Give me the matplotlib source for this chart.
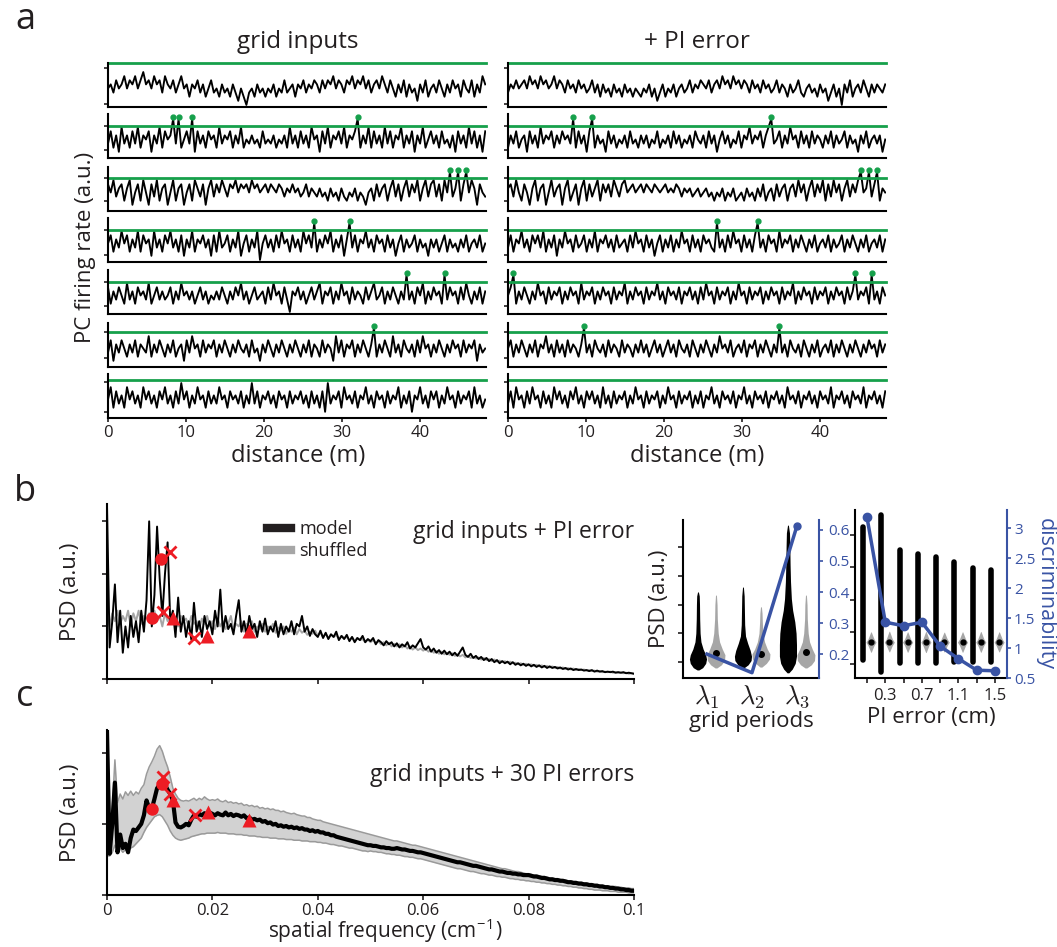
import numpy as np
import matplotlib
matplotlib.use('Agg')
import matplotlib.pyplot as plt

# -------------------------
# STYLE
# -------------------------
plt.rcParams['font.family'] = ['Open Sans', 'DejaVu Sans']
plt.rcParams['mathtext.fontset'] = 'cm'
plt.rcParams['axes.linewidth'] = 1.5
plt.rcParams['xtick.major.width'] = 1.2
plt.rcParams['ytick.major.width'] = 1.2
plt.rcParams['xtick.major.size'] = 3.5
plt.rcParams['ytick.major.size'] = 3.5
for k in ['text.color', 'axes.labelcolor', 'xtick.color', 'ytick.color']:
    plt.rcParams[k] = '#231f20'

GREEN = '#16a04b'
RED = '#ed1c24'
BLUE = '#3953a4'
GREY = '#a6a6a6'

# -------------------------
# DATA
# -------------------------
track_len = 48.4  # m

# PC firing rate traces (a.u.), 140 samples along the track
grid_1 = [4,5,3,6,4,5,7,4,6,5, 7,4,6,8,5,6,4,7,5,6, 3,7,5,4,6,3,5,7,4,5, 2,5,4,6,3,5,2,4,6,3,
          4,2,5,3,4,2,5,3,1,4, 2,0,3,4,2,5,3,4,2,4, 3,5,2,4,3,6,3,4,5,2, 5,4,6,3,5,4,6,5,3,6,
          4,6,5,7,4,6,5,3,6,5, 7,4,6,5,7,4,6,3,5,6, 4,7,5,3,6,4,2,5,3,6, 2,5,3,4,1,5,3,6,2,4,
          5,3,6,4,2,5,3,6,4,5, 2,6,4,3,6,2,5,3,7,5]
grid_2 = [3,6,2,5,1,7,3,5,2,6, 3,7,2,5,4,6,1,5,3,7, 2,6,4,5,9,3,9,2,4,6, 3,9,1,6,3,5,2,6,4,5,
          2,7,3,5,4,6,2,5,3,7, 2,4,3,5,3,4,2,6,3,4, 3,5,2,4,3,5,2,7,3,5, 2,6,3,5,2,7,4,5,1,6,
          3,7,2,5,4,6,3,7,2,5, 4,6,9,2,5,3,7,2,6,3, 5,2,7,3,6,2,5,4,7,2, 5,3,6,1,5,3,7,2,4,6,
          3,5,2,6,3,4,2,5,1,6, 3,5,2,7,3,6,2,5,1,6]
grid_3 = [6,4,7,3,5,6,2,5,7,1, 4,6,2,7,4,1,6,3,7,2, 5,6,1,4,7,2,5,6,1,4, 6,2,7,5,3,6,1,5,7,3,
          6,4,7,5,3,6,5,7,4,6, 5,6,4,7,5,6,4,5,6,4, 6,5,4,6,5,3,5,4,6,4, 5,3,4,6,3,5,4,3,5,3,
          4,2,5,3,4,2,5,3,2,4, 3,5,2,4,3,1,4,5,2,6, 3,5,6,2,5,7,3,6,2,5, 7,3,6,4,7,2,5,7,3,6,
          7,3,6,2,7,4,9,3,5,9, 2,6,9,4,7,5,1,6,4,3]
grid_4 = [4,6,2,5,3,7,4,6,2,5, 3,7,2,6,4,5,1,7,3,5, 2,6,4,7,3,5,2,6,1,5, 3,7,2,5,4,6,3,5,1,6,
          2,7,3,4,6,2,5,3,7,1, 4,6,2,5,3,7,0,4,6,3, 5,2,6,3,7,4,5,2,6,3, 5,2,7,4,6,3,9,2,5,3,
          6,4,7,2,5,3,6,1,5,9, 3,6,2,5,4,7,3,5,2,6, 4,5,2,6,3,5,1,4,6,2, 5,3,4,6,2,5,3,4,1,5,
          3,5,2,4,6,2,5,3,4,2, 5,3,6,2,4,5,3,6,2,4]
grid_5 = [6,2,5,3,6,4,2,7,3,5, 2,6,4,5,3,7,2,4,6,3, 5,3,4,6,2,5,3,7,4,5, 3,5,2,4,6,3,5,2,4,3,
          5,3,6,4,2,5,3,6,4,7, 3,5,2,4,6,3,4,5,2,6, 3,7,4,5,2,6,3,0,5,4, 6,3,5,2,4,6,3,5,7,2,
          5,4,6,2,5,3,7,4,5,2, 6,3,5,4,2,6,3,5,7,3, 4,6,2,5,3,6,4,2,5,3, 9,3,5,2,6,4,7,2,5,3,
          6,4,5,2,9,3,6,4,5,2, 6,3,7,4,2,5,3,6,2,5]
grid_6 = [3,6,1,5,3,6,4,2,5,3, 6,2,5,4,3,7,2,5,3,6, 4,2,5,3,6,2,4,5,1,6, 3,7,4,5,2,6,3,5,4,6,
          2,5,3,6,4,2,5,3,6,4, 3,5,2,6,3,4,1,5,3,6, 4,2,5,3,6,4,2,5,3,6, 4,2,5,3,6,2,5,4,2,6,
          3,5,4,1,7,3,6,2,5,4, 6,2,5,3,6,4,2,5,9,2, 5,3,6,4,2,7,3,5,2,6, 4,3,5,2,6,3,7,4,5,2,
          5,3,6,4,2,5,3,6,4,5, 2,6,3,5,4,6,1,5,3,4]
grid_7 = [4,7,2,6,3,5,2,7,4,6, 3,5,2,7,4,6,3,5,2,6, 4,7,3,5,2,6,3,8,4,6, 2,5,3,7,4,5,2,6,3,5,
          3,7,4,5,2,6,4,5,3,6, 2,5,3,8,3,6,2,5,4,6, 3,5,2,6,4,5,2,6,3,5, 4,6,3,5,2,6,3,5,2,6,
          1,8,3,5,4,6,2,7,4,5, 3,6,2,5,4,7,3,5,2,6, 4,5,2,6,3,5,4,7,2,5, 3,6,1,5,4,7,3,5,2,6,
          4,6,2,5,3,7,4,5,2,6, 3,5,4,6,2,7,3,5,2,4]

pi_1 = [3,5,4,6,4,5,6,4,7,5, 6,4,7,5,6,4,5,7,4,6, 5,3,6,4,5,3,6,4,5,3, 4,6,3,5,2,5,3,4,2,5,
        3,4,2,5,3,4,2,4,3,2, 4,3,5,2,4,1,3,5,2,4, 3,5,2,4,5,3,4,6,3,5, 4,6,5,4,6,3,5,6,4,7,
        5,6,4,7,5,6,4,6,5,3, 6,4,5,3,6,4,5,3,4,6, 3,5,4,2,5,3,4,6,3,2, 4,5,3,4,2,5,3,4,1,3,
        5,2,4,0,5,3,6,2,4,5, 3,6,4,2,5,3,5,4,3,5]
pi_2 = [2,5,3,6,2,4,5,1,6,3, 5,2,7,3,5,4,6,2,5,3, 6,4,5,3,9,2,6,3,5,1, 6,9,2,5,3,4,1,6,3,5,
        2,4,3,5,2,6,3,4,2,5, 3,5,2,4,3,6,2,4,3,5, 2,6,3,5,2,4,3,5,2,6, 4,3,5,2,6,3,5,1,4,6,
        3,5,2,4,3,6,2,5,4,7, 3,5,4,6,2,5,7,9,3,4, 6,2,5,3,7,4,5,2,6,3, 5,2,6,3,5,4,2,5,3,6,
        2,5,3,4,6,2,5,3,4,1, 5,3,6,2,4,5,3,5,1,4]
pi_3 = [5,6,3,7,4,2,6,4,1,5, 7,2,5,6,1,4,7,3,5,6, 1,5,7,2,4,6,1,5,7,2, 6,3,5,7,2,6,4,6,3,7,
        5,3,6,7,4,5,6,4,5,6, 4,6,5,4,6,5,4,5,6,4, 5,4,6,5,3,5,4,5,3,4, 5,3,4,5,3,4,2,4,3,5,
        2,4,3,5,2,3,4,2,5,3, 4,2,5,3,6,2,4,5,2,6, 3,5,6,2,5,6,3,7,4,6, 2,5,7,3,6,4,7,2,6,3,
        7,4,6,2,5,7,3,6,4,7, 9,4,5,9,3,6,9,2,5,4]
pi_4 = [3,6,2,5,4,7,3,5,2,6, 4,6,3,7,2,5,3,6,1,5, 3,7,4,5,2,6,3,4,6,2, 5,3,7,2,5,4,6,3,5,2,
        6,3,4,5,2,6,3,7,4,5, 2,6,3,5,1,4,6,2,5,3, 6,2,5,3,7,4,5,2,6,3, 5,2,6,4,5,3,2,9,3,5,
        2,6,3,7,4,5,2,6,3,5, 2,6,9,3,5,2,6,4,5,2, 7,3,5,4,6,2,5,3,6,4, 2,5,3,6,2,4,5,3,6,2,
        5,3,4,6,2,5,3,6,4,2, 5,3,6,2,4,5,3,6,2,5]
pi_5 = [4,6,9,2,5,3,6,4,2,5, 3,7,4,5,2,6,3,5,4,6, 2,5,3,6,4,5,2,7,3,5, 4,6,2,5,3,6,4,5,2,6,
        3,5,4,7,2,5,3,6,4,5, 2,6,3,5,4,7,3,5,2,6, 4,5,3,6,2,5,4,6,3,5, 2,6,3,7,4,5,2,6,3,5,
        4,6,2,5,3,7,4,5,2,6, 3,5,4,6,2,5,3,6,4,5, 2,6,3,5,4,7,2,5,3,6, 4,5,2,6,3,5,4,6,2,5,
        3,6,4,5,2,6,3,5,9,3, 5,4,6,2,9,3,5,2,6,4]
pi_6 = [4,6,2,5,3,6,4,2,5,3, 6,2,5,4,7,3,5,2,6,3, 5,2,6,3,5,4,2,5,9,3, 5,2,6,4,3,5,2,6,3,5,
        4,2,6,3,5,4,2,5,3,6, 3,5,2,4,6,3,5,2,4,6, 3,5,2,6,4,3,5,2,6,4, 2,5,3,6,4,2,5,3,7,4,
        5,3,6,2,4,5,3,6,2,5, 4,6,2,5,3,6,4,2,5,3, 9,3,5,2,6,4,3,5,2,6, 4,2,5,3,6,2,4,5,3,6,
        2,5,3,6,4,2,5,3,6,4, 2,5,3,6,4,5,2,6,3,5]
pi_7 = [3,6,2,7,4,5,2,6,3,7, 4,5,2,6,3,5,2,7,4,6, 3,5,2,6,4,7,3,5,2,6, 4,6,3,5,2,7,3,5,2,6,
        3,5,4,6,2,5,3,7,4,5, 2,6,3,5,4,6,2,5,3,7, 4,5,2,6,3,5,4,6,2,5, 3,6,2,5,4,7,3,5,2,6,
        4,5,3,6,2,5,4,7,3,5, 2,6,4,5,3,6,2,5,4,6, 3,5,2,7,4,5,3,6,2,5, 4,6,3,5,2,6,4,5,3,7,
        2,5,4,6,3,5,2,6,4,5, 3,7,2,5,4,6,3,5,2,6]

grid_traces = [grid_1, grid_2, grid_3, grid_4, grid_5, grid_6, grid_7]
pi_traces = [pi_1, pi_2, pi_3, pi_4, pi_5, pi_6, pi_7]

# firing threshold (green line) per place cell, and y ticks of each row
thresholds = [10.15, 7.3, 7.5, 7.4, 7.4, 7.9, 8.7]
row_yticks = [[0.2, 9.0], [1.4, 7.3], [1.9, 7.5], [1.2, 7.4], [1.4, 7.4], [1.6, 7.9], [1.0, 8.3]]

# panel b: PSD (a.u.) for f = 0 .. 0.1 cm^-1, 201 samples
b_model = [3.3, 0.6, 1.1, 1.8, 0.7, 1.3, 0.5, 1.0, 0.6, 1.2,
           0.8, 1.1, 0.7, 1.3, 0.9, 1.5, 3.0, 1.0, 1.6, 2.9,
           1.9, 1.2, 2.0, 2.6, 1.1, 1.3, 0.8, 1.55, 0.9, 1.2,
           0.8, 1.1, 0.75, 1.45, 0.9, 1.1, 0.8, 1.2, 0.95, 1.1,
           0.85, 1.3, 1.0, 1.7, 0.9, 1.2, 0.95, 1.05, 0.85, 1.2,
           1.5, 0.9, 1.1, 0.85, 1.2, 0.95, 1.05, 0.8, 1.1, 0.9,
           1.15, 0.85, 1.0, 0.9, 1.1, 0.8, 1.05, 0.85, 1.0, 0.9,
           1.1, 0.85, 1.05, 1.0, 1.2, 0.9, 1.0, 0.82, 0.95, 0.85,
           0.8, 0.92, 0.78, 0.88, 0.76, 0.85, 0.8, 0.9, 0.74, 0.82,
           0.76, 0.84, 0.72, 0.8, 0.7, 0.78, 0.74, 0.82, 0.7, 0.76,
           0.72, 0.78, 0.66, 0.74, 0.7, 0.64, 0.72, 0.66, 0.7, 0.62,
           0.68, 0.6, 0.66, 0.62, 0.7, 0.58, 0.64, 0.6, 0.68, 0.76,
           0.6, 0.56, 0.62, 0.52, 0.58, 0.5, 0.55, 0.48, 0.54, 0.47,
           0.52, 0.45, 0.5, 0.44, 0.52, 0.6, 0.46, 0.42, 0.48, 0.4,
           0.44, 0.38, 0.42, 0.36, 0.4, 0.34, 0.38, 0.32, 0.36, 0.3,
           0.34, 0.3, 0.33, 0.28, 0.32, 0.27, 0.3, 0.26, 0.29, 0.25,
           0.28, 0.24, 0.27, 0.23, 0.26, 0.22, 0.25, 0.21, 0.24, 0.21,
           0.23, 0.2, 0.22, 0.19, 0.21, 0.18, 0.2, 0.17, 0.19, 0.17,
           0.18, 0.16, 0.17, 0.15, 0.17, 0.14, 0.16, 0.14, 0.15, 0.13,
           0.14, 0.13, 0.14, 0.12, 0.13, 0.12, 0.13, 0.11, 0.12, 0.11, 0.1]
b_shuf = [1.2, 1.0, 1.25, 1.1, 1.3, 1.05, 1.2, 1.1, 1.3, 1.0,
          1.25, 1.1, 1.3, 1.05, 1.2, 1.15, 1.25, 1.05, 1.3, 1.1,
          1.2, 1.0, 1.25, 1.1, 1.2, 1.05, 1.15, 1.0, 1.2, 1.1,
          1.15, 1.0, 1.2, 1.05, 1.1, 0.95, 1.15, 1.05, 1.2, 1.0,
          1.1, 0.95, 1.15, 1.0, 1.1, 0.95, 1.05, 1.2, 0.95, 1.05,
          1.0, 1.1, 0.9, 1.05, 0.95, 1.1, 0.9, 1.0, 0.95, 1.05,
          0.9, 1.0, 0.95, 1.05, 0.88, 0.98, 0.92, 1.0, 0.86, 0.96,
          0.9, 0.98, 0.85, 0.95, 0.88, 0.92, 0.84, 0.9, 0.86, 0.92,
          0.82, 0.88, 0.8, 0.86, 0.78, 0.85, 0.8, 0.84, 0.76, 0.82,
          0.78, 0.8, 0.74, 0.8, 0.72, 0.78, 0.74, 0.76, 0.7, 0.75,
          0.7, 0.74, 0.68, 0.72, 0.66, 0.7, 0.64, 0.69, 0.62, 0.67,
          0.62, 0.66, 0.6, 0.64, 0.58, 0.62, 0.56, 0.6, 0.55, 0.58,
          0.54, 0.57, 0.52, 0.55, 0.5, 0.53, 0.48, 0.52, 0.47, 0.5,
          0.46, 0.49, 0.44, 0.47, 0.43, 0.46, 0.41, 0.44, 0.4, 0.42,
          0.39, 0.41, 0.37, 0.4, 0.36, 0.38, 0.34, 0.37, 0.33, 0.35,
          0.32, 0.34, 0.31, 0.33, 0.3, 0.31, 0.28, 0.3, 0.27, 0.29,
          0.26, 0.28, 0.25, 0.27, 0.24, 0.26, 0.23, 0.25, 0.22, 0.24,
          0.21, 0.23, 0.2, 0.22, 0.19, 0.21, 0.18, 0.2, 0.17, 0.19,
          0.17, 0.18, 0.16, 0.17, 0.15, 0.16, 0.14, 0.15, 0.13, 0.14,
          0.13, 0.14, 0.12, 0.13, 0.12, 0.12, 0.11, 0.12, 0.1, 0.11, 0.1]

# grid-period markers on panel b (frequency, PSD)
b_circle_f, b_circle_y = [0.0085, 0.0102], [1.16, 2.29]
b_cross_f, b_cross_y = [0.0106, 0.012, 0.0165], [1.28, 2.42, 0.78]
b_tri_f, b_tri_y = [0.0125, 0.019, 0.0269], [1.16, 0.82, 0.91]

# panel c: mean PSD over 30 PI errors and shuffled envelope
c_model = [2.3, 0.58, 1.0, 1.58, 0.6, 0.85, 0.66, 0.72, 0.6, 0.8,
           0.92, 0.9, 0.95, 1.0, 1.12, 1.33, 1.22, 1.21, 1.35, 1.5,
           1.55, 1.58, 1.55, 1.48, 1.42, 1.33, 1.02, 0.96, 0.95, 0.97,
           1.0, 0.98, 1.06, 1.12, 1.1, 1.14, 1.12, 1.15, 1.13, 1.16,
           1.14, 1.12, 1.15, 1.13, 1.12, 1.16, 1.12, 1.14, 1.11, 1.13,
           1.12, 1.1, 1.12, 1.08, 1.09, 1.06, 1.07, 1.05, 1.06, 1.03,
           1.04, 1.01, 1.02, 0.99, 1.0, 0.97, 0.98, 0.96, 0.97, 0.95,
           0.96, 0.94, 0.95, 0.93, 0.94, 0.92, 0.92, 0.9, 0.91, 0.89,
           0.9, 0.88, 0.88, 0.86, 0.86, 0.84, 0.84, 0.82, 0.81, 0.8,
           0.79, 0.78, 0.77, 0.76, 0.75, 0.74, 0.73, 0.72, 0.71, 0.7,
           0.7, 0.69, 0.69, 0.68, 0.67, 0.67, 0.66, 0.66, 0.65, 0.65,
           0.66, 0.65, 0.64, 0.64, 0.63, 0.62, 0.62, 0.61, 0.6, 0.6,
           0.59, 0.58, 0.57, 0.56, 0.55, 0.54, 0.53, 0.52, 0.51, 0.5,
           0.49, 0.48, 0.47, 0.46, 0.46, 0.45, 0.44, 0.43, 0.42, 0.41,
           0.41, 0.4, 0.39, 0.38, 0.37, 0.36, 0.36, 0.35, 0.34, 0.33,
           0.33, 0.32, 0.31, 0.31, 0.3, 0.3, 0.29, 0.29, 0.28, 0.28,
           0.28, 0.27, 0.26, 0.26, 0.25, 0.24, 0.24, 0.23, 0.22, 0.22,
           0.21, 0.21, 0.2, 0.2, 0.19, 0.18, 0.18, 0.17, 0.17, 0.16,
           0.16, 0.15, 0.15, 0.14, 0.14, 0.13, 0.13, 0.12, 0.12, 0.11,
           0.11, 0.1, 0.1, 0.09, 0.09, 0.08, 0.08, 0.07, 0.07, 0.06, 0.06]
c_shuf_hi = [1.3, 1.0, 1.2, 1.9, 1.3, 1.42, 1.35, 1.45, 1.4, 1.46,
             1.4, 1.45, 1.42, 1.5, 1.55, 1.7, 1.8, 1.87, 1.95, 2.05,
             2.1, 2.02, 1.9, 1.8, 1.66, 1.5, 1.42, 1.36, 1.33, 1.32,
             1.33, 1.32, 1.34, 1.36, 1.33, 1.36, 1.34, 1.38, 1.35, 1.33,
             1.34, 1.33, 1.35, 1.32, 1.31, 1.33, 1.3, 1.31, 1.29, 1.3,
             1.28, 1.29, 1.26, 1.27, 1.25, 1.26, 1.24, 1.25, 1.22, 1.23,
             1.21, 1.22, 1.2, 1.21, 1.19, 1.19, 1.17, 1.18, 1.16, 1.15,
             1.14, 1.15, 1.13, 1.12, 1.11, 1.11, 1.09, 1.09, 1.07, 1.06,
             1.05, 1.05, 1.03, 1.02, 1.01, 1.0, 0.99, 0.98, 0.97, 0.96,
             0.95, 0.94, 0.93, 0.92, 0.91, 0.9, 0.89, 0.88, 0.87, 0.86,
             0.85, 0.84, 0.83, 0.82, 0.81, 0.8, 0.79, 0.78, 0.77, 0.76,
             0.76, 0.75, 0.74, 0.73, 0.72, 0.71, 0.7, 0.7, 0.69, 0.68,
             0.67, 0.66, 0.65, 0.64, 0.63, 0.62, 0.61, 0.6, 0.59, 0.58,
             0.57, 0.56, 0.55, 0.54, 0.53, 0.52, 0.51, 0.5, 0.49, 0.48,
             0.47, 0.46, 0.45, 0.44, 0.43, 0.42, 0.41, 0.4, 0.39, 0.38,
             0.37, 0.37, 0.36, 0.35, 0.34, 0.33, 0.33, 0.32, 0.31, 0.3,
             0.3, 0.29, 0.28, 0.28, 0.27, 0.26, 0.26, 0.25, 0.24, 0.24,
             0.23, 0.23, 0.22, 0.21, 0.21, 0.2, 0.2, 0.19, 0.19, 0.18,
             0.18, 0.17, 0.17, 0.16, 0.16, 0.15, 0.15, 0.14, 0.14, 0.13,
             0.13, 0.12, 0.12, 0.12, 0.11, 0.11, 0.1, 0.1, 0.1, 0.09, 0.09]
c_shuf_lo = [0.55, 0.55, 0.6, 0.7, 0.62, 0.65, 0.6, 0.64, 0.62, 0.66,
             0.68, 0.72, 0.76, 0.8, 0.88, 0.95, 1.0, 1.05, 1.1, 1.12,
             1.13, 1.1, 1.04, 0.98, 0.9, 0.84, 0.8, 0.78, 0.77, 0.78,
             0.79, 0.8, 0.82, 0.83, 0.84, 0.85, 0.86, 0.86, 0.87, 0.87,
             0.87, 0.87, 0.88, 0.87, 0.87, 0.87, 0.86, 0.86, 0.86, 0.85,
             0.85, 0.85, 0.84, 0.84, 0.83, 0.83, 0.83, 0.82, 0.82, 0.81,
             0.81, 0.81, 0.8, 0.8, 0.8, 0.79, 0.79, 0.79, 0.78, 0.78,
             0.78, 0.77, 0.77, 0.77, 0.76, 0.76, 0.76, 0.75, 0.75, 0.75,
             0.74, 0.74, 0.73, 0.73, 0.72, 0.71, 0.71, 0.7, 0.69, 0.69,
             0.68, 0.67, 0.66, 0.66, 0.65, 0.64, 0.63, 0.62, 0.62, 0.61,
             0.62, 0.61, 0.61, 0.6, 0.6, 0.59, 0.58, 0.58, 0.57, 0.57,
             0.56, 0.56, 0.55, 0.54, 0.54, 0.53, 0.53, 0.52, 0.51, 0.51,
             0.5, 0.49, 0.48, 0.47, 0.46, 0.45, 0.44, 0.43, 0.42, 0.41,
             0.4, 0.39, 0.38, 0.37, 0.37, 0.36, 0.35, 0.34, 0.33, 0.33,
             0.32, 0.31, 0.3, 0.3, 0.29, 0.28, 0.28, 0.27, 0.26, 0.26,
             0.25, 0.25, 0.24, 0.23, 0.23, 0.22, 0.22, 0.21, 0.21, 0.2,
             0.2, 0.19, 0.19, 0.18, 0.18, 0.17, 0.17, 0.16, 0.16, 0.15,
             0.15, 0.14, 0.14, 0.13, 0.13, 0.12, 0.12, 0.11, 0.11, 0.1,
             0.1, 0.09, 0.09, 0.08, 0.08, 0.07, 0.07, 0.07, 0.06, 0.06,
             0.06, 0.05, 0.05, 0.05, 0.04, 0.04, 0.04, 0.04, 0.03, 0.03, 0.03]

c_circle_f, c_circle_y = [0.0085, 0.0104], [1.21, 1.56]
c_cross_f, c_cross_y = [0.0106, 0.012, 0.0167], [1.66, 1.42, 1.13]
c_tri_f, c_tri_y = [0.0125, 0.0192, 0.027], [1.34, 1.17, 1.06]

# violins per grid period: (PSD level, relative density)
period_labels = [r'$\lambda_1$', r'$\lambda_2$', r'$\lambda_3$']
model_levels = [[0.72, 0.8, 0.95, 1.1, 1.25, 1.45, 1.7, 2.0, 2.5, 3.0, 3.3, 3.44],
                [0.79, 0.9, 1.05, 1.2, 1.4, 1.65, 1.9, 2.3, 2.8, 3.3, 3.61],
                [0.62, 0.75, 0.95, 1.2, 1.6, 2.0, 2.4, 2.8, 3.2, 3.8, 4.4, 5.0, 5.5, 5.77]]
model_dens = [[0.1, 0.55, 0.9, 1.0, 0.9, 0.6, 0.35, 0.25, 0.2, 0.18, 0.15, 0.05],
              [0.1, 0.6, 0.95, 1.0, 0.85, 0.55, 0.3, 0.2, 0.17, 0.14, 0.05],
              [0.1, 0.5, 0.85, 1.0, 1.0, 0.95, 0.8, 0.55, 0.4, 0.3, 0.25, 0.22, 0.18, 0.05]]
shuf_levels = [[0.79, 0.9, 1.05, 1.25, 1.45, 1.7, 2.0, 2.5, 3.0, 3.33],
               [0.82, 0.95, 1.1, 1.28, 1.45, 1.7, 2.0, 2.4, 2.7, 2.92],
               [0.79, 0.9, 1.05, 1.25, 1.45, 1.7, 2.0, 2.5, 3.0, 3.33]]
shuf_dens = [[0.1, 0.6, 0.95, 1.0, 0.7, 0.4, 0.25, 0.15, 0.12, 0.05],
             [0.1, 0.6, 0.95, 1.0, 0.7, 0.4, 0.22, 0.15, 0.12, 0.05],
             [0.1, 0.6, 0.95, 1.0, 0.7, 0.4, 0.25, 0.15, 0.12, 0.05]]
shuf_median = [1.31, 1.28, 1.35]
disc_periods = [0.2, 0.14, 0.613]

# violins per PI error (cm)
pi_err = [0.1, 0.3, 0.5, 0.7, 0.9, 1.1, 1.3, 1.5]
pi_model_lo = [1.12, 0.75, 1.03, 1.03, 1.03, 1.06, 1.06, 1.06]
pi_model_hi = [5.25, 5.63, 4.54, 4.42, 4.32, 4.17, 3.98, 3.92]
pi_shuf_lo = [1.37, 1.38, 1.37, 1.36, 1.38, 1.37, 1.37, 1.38]
pi_shuf_med = [1.68, 1.68, 1.68, 1.68, 1.68, 1.68, 1.68, 1.68]
pi_shuf_hi = [2.0, 2.02, 2.0, 2.01, 1.99, 2.0, 2.01, 2.0]
disc_pi = [3.18, 1.43, 1.37, 1.43, 1.03, 0.82, 0.63, 0.62]

# -------------------------
# FIGURE
# -------------------------
W, H = 1057, 947
fig = plt.figure(figsize=(W / 100, H / 100), dpi=100)


def px_axes(x0, y0, x1, y1):
    return fig.add_axes([x0 / W, 1 - y1 / H, (x1 - x0) / W, (y1 - y0) / H])


def clean(ax):
    ax.spines['top'].set_visible(False)
    ax.spines['right'].set_visible(False)


# ---- panel a ----
row_bottoms = [107, 158, 211, 262, 314, 367, 418]
for traces, x0 in [(grid_traces, 108), (pi_traces, 508)]:
    for r, tr in enumerate(traces):
        ax = px_axes(x0, row_bottoms[r] - 44, x0 + 378, row_bottoms[r])
        tr = np.array(tr, dtype=float)
        x = np.linspace(0, track_len, len(tr))
        ax.plot(x, tr, color='k', lw=1.35)
        ax.axhline(thresholds[r], color=GREEN, lw=2, clip_on=False)
        above = tr > thresholds[r]
        ax.plot(x[above], tr[above] + 0.35, 'o', color=GREEN, ms=3.5, clip_on=False)
        ax.set_xlim(0, 48.5)
        ax.set_ylim(-0.5, 10.2)
        ax.set_yticks(row_yticks[r])
        ax.set_yticklabels([])
        ax.tick_params(axis='y', length=3)
        clean(ax)
        if r < 6:
            ax.set_xticks([])
        else:
            ax.set_xticks([0, 10, 20, 30, 40])
            ax.tick_params(axis='x', labelsize=12, length=3, pad=2)

fig.text(298 / W, 1 - 42 / H, 'grid inputs', ha='center', va='center', fontsize=17.5)
fig.text(697 / W, 1 - 42 / H, '+ PI error', ha='center', va='center', fontsize=17.5)
fig.text(298 / W, 1 - 456 / H, 'distance (m)', ha='center', va='center', fontsize=17)
fig.text(697 / W, 1 - 456 / H, 'distance (m)', ha='center', va='center', fontsize=17)
fig.text(85 / W, 1 - 247 / H, 'PC firing rate (a.u.)', ha='center', va='center',
         rotation=90, fontsize=16)

fig.text(25 / W, 1 - 20 / H, 'a', ha='center', va='center', fontsize=26)
fig.text(25 / W, 1 - 492 / H, 'b', ha='center', va='center', fontsize=26)
fig.text(25 / W, 1 - 697 / H, 'c', ha='center', va='center', fontsize=26)

freq = np.linspace(0, 0.1, len(b_model))
freq_ticks = [0, 0.02, 0.04, 0.06, 0.08, 0.1]


def grid_markers(ax, cf, cy, xf, xy, tf, ty):
    ax.plot(cf, cy, 'o', color=RED, ms=9, mec='none', zorder=5)
    ax.plot(xf, xy, 'x', color=RED, ms=8, mew=2, zorder=5)
    ax.plot(tf, ty, '^', color=RED, ms=10, mec='none', zorder=5)


# ---- panel b ----
axb = px_axes(107, 504, 634, 679)
axb.plot(freq, b_shuf, color=GREY, lw=1.4)
axb.plot(freq, b_model, color='k', lw=1.4)
grid_markers(axb, b_circle_f, b_circle_y, b_cross_f, b_cross_y, b_tri_f, b_tri_y)
axb.set_xlim(0, 0.1)
axb.set_ylim(0, 3.33)
axb.set_yticks([0, 1, 2, 3])
axb.set_yticklabels([])
axb.set_xticks(freq_ticks)
axb.set_xticklabels([])
axb.set_ylabel('PSD (a.u.)', fontsize=16, labelpad=12)
clean(axb)
h1 = plt.Line2D([], [], color='#231f20', lw=6)
h2 = plt.Line2D([], [], color=GREY, lw=6)
axb.legend([h1, h2], ['model', 'shuffled'], loc='upper left', bbox_to_anchor=(0.29, 0.95),
           frameon=False, fontsize=13, handlelength=1.3, handletextpad=0.5,
           labelspacing=0.25, borderaxespad=0)
axb.text(1.0, 0.84, 'grid inputs + PI error', transform=axb.transAxes,
         ha='right', va='center', fontsize=16.5)

# ---- panel c ----
axc = px_axes(107, 730, 634, 895)
axc.fill_between(freq, c_shuf_lo, c_shuf_hi, color='#d2d2d2', lw=0)
axc.plot(freq, c_shuf_hi, color='#9a9a9a', lw=1.1)
axc.plot(freq, c_shuf_lo, color='#9a9a9a', lw=1.1)
axc.plot(freq, c_model, color='k', lw=3)
grid_markers(axc, c_circle_f, c_circle_y, c_cross_f, c_cross_y, c_tri_f, c_tri_y)
axc.set_xlim(0, 0.1)
axc.set_ylim(0, 2.32)
axc.set_yticks([0, 1, 2])
axc.set_yticklabels([])
axc.set_xticks(freq_ticks)
axc.set_xticklabels(['0', '0.02', '0.04', '0.06', '0.08', '0.1'])
axc.tick_params(axis='x', labelsize=12, pad=2)
axc.set_ylabel('PSD (a.u.)', fontsize=16, labelpad=12)
clean(axc)
fig.text(385 / W, 1 - 931 / H, r'spatial frequency (cm$^{\mathregular{-1}}$)',
         ha='center', va='center', fontsize=15)
axc.text(1.0, 0.73, 'grid inputs + 30 PI errors', transform=axc.transAxes,
         ha='right', va='center', fontsize=16.5)


def violin(ax, x, levels, dens, half_w, color):
    levels = np.array(levels)
    dens = np.array(dens)
    ax.fill_betweenx(levels, x - dens * half_w, x + dens * half_w, color=color, lw=0)


# ---- violins vs grid periods ----
axv = px_axes(683, 520, 819, 678)
for i in range(3):
    violin(axv, i + 1 - 0.2, model_levels[i], model_dens[i], 0.19, 'k')
    violin(axv, i + 1 + 0.2, shuf_levels[i], shuf_dens[i], 0.2, GREY)
    axv.plot(i + 1 + 0.2, shuf_median[i], 'o', color='k', ms=4)
axv.set_xlim(0.467, 3.49)
axv.set_ylim(0.44, 5.95)
axv.set_yticks([1, 2, 3, 4, 5])
axv.set_yticklabels([])
axv.set_xticks([1, 2, 3])
axv.set_xticklabels(period_labels, fontsize=19)
axv.tick_params(axis='x', length=0, pad=4)
axv.set_xlabel('grid periods', fontsize=16, labelpad=0)
axv.set_ylabel('PSD (a.u.)', fontsize=16, labelpad=2)
axv.spines['top'].set_visible(False)
axv.spines['right'].set_visible(False)
axv2 = axv.twinx()
axv2.plot([1, 2, 3], disc_periods, color=BLUE, lw=2.5)
axv2.plot(3, disc_periods[2], 'o', color=BLUE, ms=5)
axv2.set_ylim(0.123, 0.632)
axv2.set_yticks([0.2, 0.3, 0.4, 0.5, 0.6])
axv2.tick_params(axis='y', colors=BLUE, labelsize=11, length=3)
axv2.spines['right'].set_color(BLUE)
for s in ['top', 'left', 'bottom']:
    axv2.spines[s].set_visible(False)

# ---- violins vs PI error ----
axp = px_axes(855, 510, 1007, 678)
dx = 0.044
pv = axp.vlines(np.array(pi_err) - dx, pi_model_lo, pi_model_hi, color='k', lw=4)
pv.set_capstyle('round')
for i, v in enumerate(pi_err):
    lo, med, hi = pi_shuf_lo[i], pi_shuf_med[i], pi_shuf_hi[i]
    violin(axp, v + dx, [lo, med - 0.1, med, med + 0.1, hi], [0.05, 0.6, 1.0, 0.6, 0.05],
           0.055, GREY)
    axp.plot(v + dx, med, 'o', color='k', ms=3.5)
axp.set_xlim(-0.031, 1.63)
axp.set_ylim(0.57, 5.78)
axp.set_yticks([1, 2, 3, 4, 5])
axp.set_yticklabels([])
axp.set_xticks(pi_err)
axp.set_xticklabels(['', '0.3', '', '0.7', '', '1.1', '', '1.5'], fontsize=12)
axp.set_xlabel('PI error (cm)', fontsize=16, labelpad=2)
axp.spines['top'].set_visible(False)
axp.spines['right'].set_visible(False)
axp2 = axp.twinx()
axp2.plot(pi_err, disc_pi, color=BLUE, lw=2.5, marker='o', ms=6)
axp2.set_ylim(0.5, 3.3)
axp2.set_yticks([0.5, 1, 1.5, 2, 2.5, 3])
axp2.set_yticklabels(['0.5', '1', '1.5', '2', '2.5', '3'])
axp2.tick_params(axis='y', colors=BLUE, labelsize=11, length=3, pad=2)
axp2.spines['right'].set_color(BLUE)
for s in ['top', 'left', 'bottom']:
    axp2.spines[s].set_visible(False)
fig.text(1045 / W, 1 - 594 / H, 'discriminability', color=BLUE, fontsize=15.5,
         rotation=270, ha='center', va='center')

fig.savefig('out.png', dpi=100)
